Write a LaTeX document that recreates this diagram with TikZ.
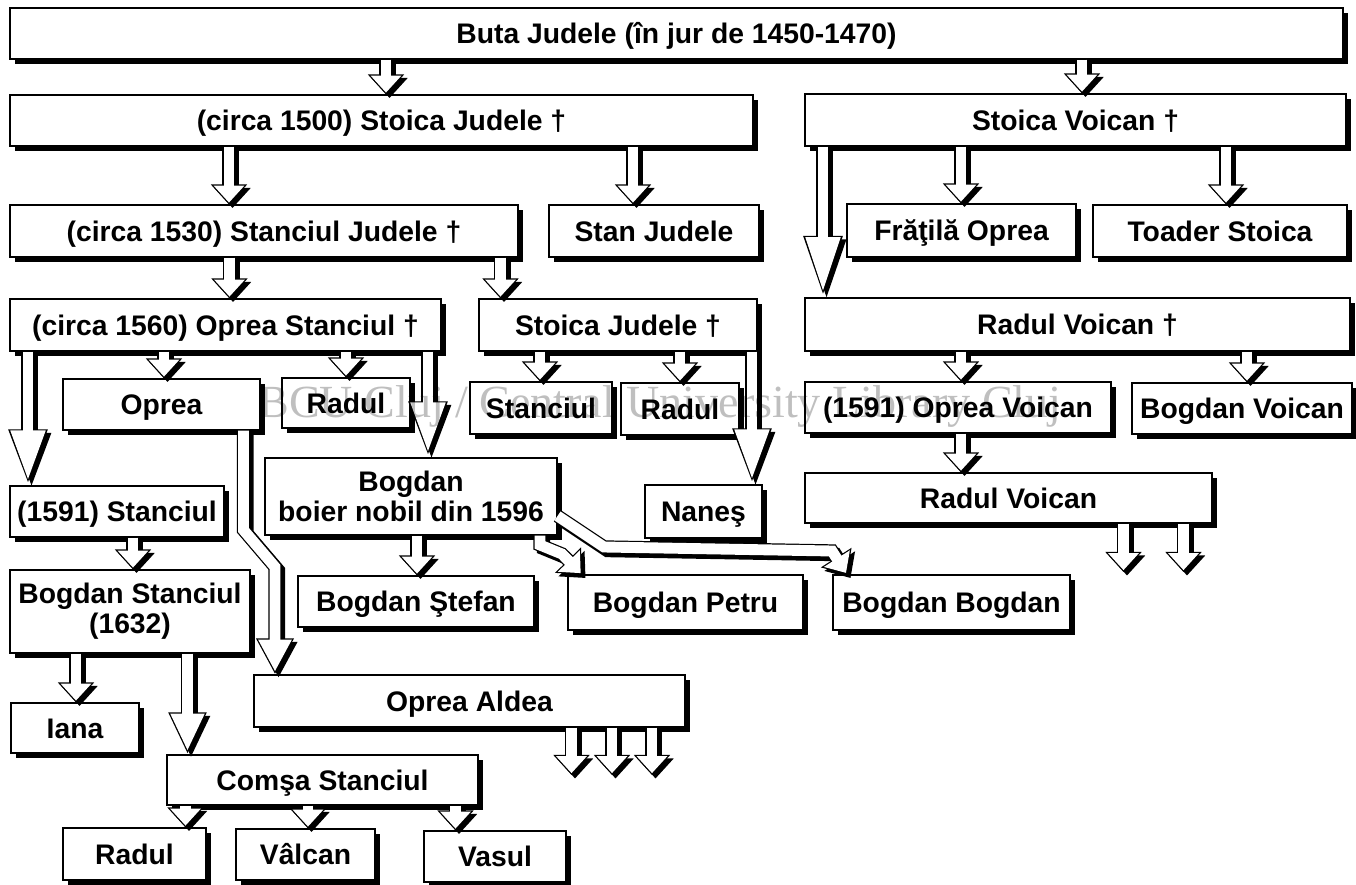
\documentclass[tikz,border=0pt]{standalone}
\usepackage{fontspec}
\setmainfont{Liberation Sans}
\newfontfamily\wmfont{Liberation Serif}
\usetikzlibrary{arrows.meta,shadows}

\tikzset{
	box2/.style={draw,line width=0.6pt,fill=white,inner sep=0pt,align=center,
		font=\fontsize{16.1}{17}\selectfont\bfseries,
		drop shadow={shadow xshift=3pt,shadow yshift=-3pt,opacity=1,fill=black}},
	box/.style={box2,text height=11.5pt,text depth=0pt},
	wh/.style 2 args={minimum width=#1*0.02cm,minimum height=#2*0.02cm},
	ashade/.style={line width=7.6pt,black,line join=miter,transform canvas={shift={(2pt,-2pt)}}},
	aline/.style={line width=7.6pt,black,line join=miter},
	afill/.style={line width=6.2pt,white,line join=miter},
	wmark/.style={inner sep=0pt,text=black,text opacity=0.25,font=\wmfont\fontsize{26.2}{30}\selectfont}
}

\newcommand{\famarrow}[2][11.4]{%
	\pgfmathsetmacro{\headlen}{#1}%
	\pgfmathsetmacro{\apback}{0.7*sqrt(100+\headlen*\headlen)/10}%
	\pgfmathsetmacro{\inlen}{\headlen-0.7-\apback}%
	\pgfmathsetmacro{\inwid}{2*\inlen*10/\headlen}%
	\draw[ashade,-{Triangle[length=\headlen pt,width=20pt]}] #2;
	\draw[aline,-{Triangle[length=\headlen pt,width=20pt]}] #2;
	\draw[afill,shorten >=\apback pt,-{Triangle[length=\inlen pt,width=\inwid pt]}] #2;}

\begin{document}
\begin{tikzpicture}[x=0.02cm,y=-0.02cm]
	\useasboundingbox (0,0) rectangle (1356,885);
	\node[box,wh={1333}{51}] (buta) at (676.5,33.5) {Buta Judele (în jur de 1450-1470)};
	\node[box,wh={743}{51}] (stoicaj) at (381.5,120.5) {(circa 1500) Stoica Judele †};
	\node[box,wh={541}{52}] (stoicav) at (1075.5,120) {Stoica Voican †};
	\node[box,wh={508}{52}] (stanciulj) at (264,231) {(circa 1530) Stanciul Judele †};
	\node[box,wh={210}{52}] (stanj) at (654,231) {Stan Judele};
	\node[box,wh={229}{53}] (fratila) at (961.5,230.5) {Frăţilă Oprea};
	\node[box,wh={254}{52}] (toader) at (1220,231) {Toader Stoica};
	\node[box,wh={431}{52}] (opreas) at (225.5,325) {(circa 1560) Oprea Stanciul †};
	\node[box,wh={278}{52}] (stoicaj2) at (618,325) {Stoica Judele †};
	\node[box,wh={545}{53}] (radulv) at (1077.5,324.5) {Radul Voican †};
	\node[box,wh={197}{51}] (oprea) at (161.5,404.5) {Oprea};
	\node[box,wh={128}{50}] (radul1) at (346,403) {Radul};
	\node[box,wh={142}{52}] (stanciul2) at (541,408) {Stanciul};
	\node[box,wh={118}{52}] (radul2) at (680,409) {Radul};
	\node[box,wh={306}{51}] (opreav) at (958,407.5) {(1591) Oprea Voican};
	\node[box,wh={220}{51}] (bogdanv) at (1242,408.5) {Bogdan Voican};
	\node[box,wh={214}{51}] (stanciul3) at (117,511.5) {(1591) Stanciul};
	\node[box2,wh={292}{77}] (bogdan) at (411,496.5) {Bogdan\\boier nobil din 1596};
	\node[box,wh={117}{53}] (nanes) at (703.5,511.5) {Naneş};
	\node[box,wh={407}{50}] (radulv2) at (1008.5,498) {Radul Voican};
	\node[box2,wh={240}{83}] (bogdans) at (130,611.5) {Bogdan Stanciul\\(1632)};
	\node[box,wh={236}{51}] (stefan) at (416,601.5) {Bogdan Ştefan};
	\node[box,wh={235}{55}] (petru) at (685.5,602.5) {Bogdan Petru};
	\node[box,wh={237}{55}] (bogdanb) at (951.5,602.5) {Bogdan Bogdan};
	\node[box,wh={128}{50}] (iana) at (75,728) {Iana};
	\node[box,wh={431}{52}] (aldea) at (469.5,701) {Oprea Aldea};
	\node[box,wh={311}{50}] (comsa) at (322.5,780) {Comşa Stanciul};
	\node[box,wh={143}{52}] (radul3) at (134.5,854) {Radul};
	\node[box,wh={139}{51}] (valcan) at (305.5,854.5) {Vâlcan};
	\node[box,wh={142}{51}] (vasul) at (495,856.5) {Vasul};
	\coordinate (rva) at (1123.5,572);
	\coordinate (rvb) at (1183.5,572);
	\coordinate (ala) at (571.5,775);
	\coordinate (alb) at (612,775);
	\coordinate (alc) at (652,775);
	\famarrow{(386,0 |- buta.south) -- (386,0 |- stoicaj.north)}
	\famarrow{(1082,0 |- buta.south) -- (1082,0 |- stoicav.north)}
	\famarrow{(229,0 |- stoicaj.south) -- (229,0 |- stanciulj.north)}
	\famarrow{(633,0 |- stoicaj.south) -- (633,0 |- stanj.north)}
	\famarrow[35]{(823,0 |- stoicav.south) -- (823,0 |- radulv.north)}
	\famarrow{(961,0 |- stoicav.south) -- (961,0 |- fratila.north)}
	\famarrow{(1226,0 |- stoicav.south) -- (1226,0 |- toader.north)}
	\famarrow{(229.5,0 |- stanciulj.south) -- (229.5,0 |- opreas.north)}
	\famarrow{(500.5,0 |- stanciulj.south) -- (500.5,0 |- stoicaj2.north)}
	\famarrow[32]{(28,0 |- opreas.south) -- (28,0 |- stanciul3.north)}
	\famarrow{(164,0 |- opreas.south) -- (164,0 |- oprea.north)}
	\famarrow{(346,0 |- opreas.south) -- (346,0 |- radul1.north)}
	\famarrow[32]{(428,0 |- opreas.south) -- (428,0 |- bogdan.north)}
	\famarrow{(540,0 |- stoicaj2.south) -- (540,0 |- stanciul2.north)}
	\famarrow{(680,0 |- stoicaj2.south) -- (680,0 |- radul2.north)}
	\famarrow[32]{(752,0 |- stoicaj2.south) -- (752,0 |- nanes.north)}
	\famarrow{(961,0 |- radulv.south) -- (961,0 |- opreav.north)}
	\famarrow{(1247,0 |- radulv.south) -- (1247,0 |- bogdanv.north)}
	\famarrow{(961,0 |- opreav.south) -- (961,0 |- radulv2.north)}
	\famarrow{(1123.5,0 |- radulv2.south) -- (rva)}
	\famarrow{(1183.5,0 |- radulv2.south) -- (rvb)}
	\famarrow{(133,0 |- stanciul3.south) -- (133,0 |- bogdans.north)}
	\famarrow[20.5]{(243.5,0 |- oprea.south) -- (243.5,530) -- (275,567) -- (275,0 |- aldea.north)}
	\famarrow{(417,0 |- bogdan.south) -- (417,0 |- stefan.north)}
	\famarrow{(540,0 |- bogdan.south) -- (540,545) -- (562,554) -- (582,0 |- petru.north)}
	\famarrow{(bogdan.east |- 0,516) -- (604,547) -- (832,551) -- (847,0 |- bogdanb.north)}
	\famarrow{(571.5,0 |- aldea.south) -- (ala)}
	\famarrow{(612,0 |- aldea.south) -- (alb)}
	\famarrow{(652,0 |- aldea.south) -- (alc)}
	\famarrow{(76,0 |- bogdans.south) -- (76,0 |- iana.north)}
	\famarrow[24]{(187.5,0 |- bogdans.south) -- (187.5,0 |- comsa.north)}
	\famarrow{(185.5,0 |- comsa.south) -- (185.5,0 |- radul3.north)}
	\famarrow{(308,0 |- comsa.south) -- (308,0 |- valcan.north)}
	\famarrow{(455.5,0 |- comsa.south) -- (455.5,0 |- vasul.north)}
	\node[wmark,anchor=base west] (wm) at (258,417) {BCU Cluj / Central University Library Cluj};
\end{tikzpicture}
\end{document}
